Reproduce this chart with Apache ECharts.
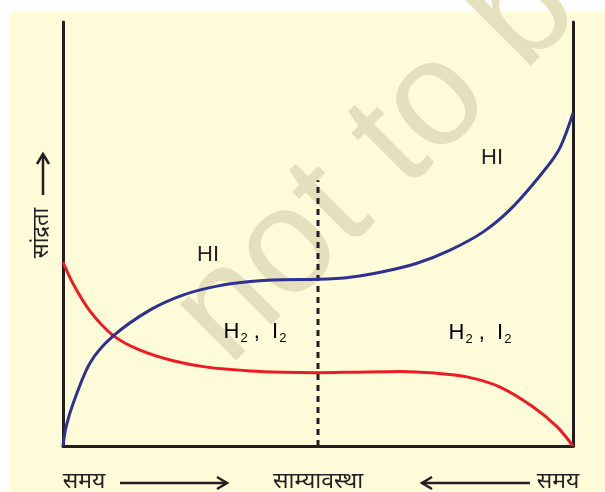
<!DOCTYPE html>
<html>
<head>
<meta charset="utf-8">
<script src="https://cdn.jsdelivr.net/npm/echarts@6/dist/echarts.min.js"></script>
<style>
  html, body { margin: 0; padding: 0; background: #fff; }
  #chart { width: 605px; height: 492px; }
</style>
</head>
<body>
<div id="chart"></div>
<script>
// समय (x) 0..100, सांद्रता (y) 0..100
var hiX = [0, 0.6, 2, 5.3, 9.8, 17.1, 23.5, 30.2, 36.7, 43.1, 50, 56.3, 62.7, 69.4, 75.9, 82.4, 88.2, 94.9, 97.5, 100];
var hiY = [0, 4.5, 10.1, 19.6, 25.9, 32.1, 35.6, 37.7, 38.8, 39.2, 39.3, 39.8, 41.1, 43.1, 46.2, 50.5, 56.4, 65.8, 70.5, 78.5];

var h2X = [0, 2, 5.3, 9.8, 15.1, 21.6, 28.2, 36.7, 43.1, 50, 56.3, 66.1, 72.9, 79.2, 85.7, 92.2, 96.9, 100];
var h2Y = [43.4, 38.2, 31.8, 26.1, 22.6, 20.1, 18.6, 17.7, 17.4, 17.3, 17.4, 17.6, 17.2, 16.3, 13.9, 9.2, 4.5, 0];

// साम्यावस्था
var eqX = 50;
var eqTop = 62.7;

var xLabels = ['समय', 'साम्यावस्था', 'समय'];
var yLabel = 'सांद्रता';

function pairs(xs, ys) {
  var out = [];
  for (var i = 0; i < xs.length; i++) out.push([xs[i], ys[i]]);
  return out;
}

var ink = '#231f20';
var txtFont = '"Liberation Sans", Arial, sans-serif';
var devFont = '"Noto Sans", "Liberation Sans", sans-serif';

var chart = echarts.init(document.getElementById('chart'));

var option = {
  backgroundColor: '#ffffff',
  animation: false,
  grid: { left: 63, right: 32, top: 22, bottom: 46 },
  xAxis: {
    type: 'value', min: 0, max: 100,
    axisLine: { show: true, lineStyle: { color: ink, width: 3 } },
    axisTick: { show: false }, axisLabel: { show: false }, splitLine: { show: false }
  },
  yAxis: [
    {
      type: 'value', min: 0, max: 100, position: 'left',
      axisLine: { show: true, lineStyle: { color: ink, width: 3 } },
      axisTick: { show: false }, axisLabel: { show: false }, splitLine: { show: false }
    },
    {
      type: 'value', min: 0, max: 100, position: 'right',
      axisLine: { show: true, lineStyle: { color: ink, width: 3 } },
      axisTick: { show: false }, axisLabel: { show: false }, splitLine: { show: false }
    }
  ],
  graphic: [
    // page tint
    { type: 'rect', z: -10, silent: true, shape: { x: 10, y: 11, width: 595, height: 481 }, style: { fill: '#fefbd8' } },
    // watermark
    {
      type: 'text', z: -5, silent: true, x: 288, y: 250, rotation: 45 * Math.PI / 180,
      style: { text: 'not to be republished', x: -125, y: 0, textVerticalAlign: 'middle', font: '150px ' + txtFont, fill: '#e4dfbd' }
    },
    // curve labels
    { type: 'text', z: 10, x: 208, y: 255, style: { text: 'HI', font: '22px ' + txtFont, fill: ink, textAlign: 'center', textVerticalAlign: 'middle' } },
    { type: 'text', z: 10, x: 492, y: 158, style: { text: 'HI', font: '22px ' + txtFont, fill: ink, textAlign: 'center', textVerticalAlign: 'middle' } },
    {
      type: 'text', z: 10, x: 255, y: 332,
      style: {
        text: '{b|H}{s|2}{b| ,  I}{s|2}', textAlign: 'center', textVerticalAlign: 'middle',
        rich: { b: { fontSize: 22, fontFamily: txtFont, color: ink }, s: { fontSize: 13, fontFamily: txtFont, color: ink, padding: [12, 0, 0, 1] } }
      }
    },
    {
      type: 'text', z: 10, x: 480, y: 333,
      style: {
        text: '{b|H}{s|2}{b| ,  I}{s|2}', textAlign: 'center', textVerticalAlign: 'middle',
        rich: { b: { fontSize: 22, fontFamily: txtFont, color: ink }, s: { fontSize: 13, fontFamily: txtFont, color: ink, padding: [12, 0, 0, 1] } }
      }
    },
    // bottom labels
    { type: 'text', x: 84, y: 481, style: { text: xLabels[0], font: '23px ' + devFont, fill: ink, textAlign: 'center', textVerticalAlign: 'middle' } },
    { type: 'text', x: 318, y: 481, style: { text: xLabels[1], font: '23px ' + devFont, fill: ink, textAlign: 'center', textVerticalAlign: 'middle' } },
    { type: 'text', x: 558, y: 481, style: { text: xLabels[2], font: '23px ' + devFont, fill: ink, textAlign: 'center', textVerticalAlign: 'middle' } },
    { type: 'polyline', shape: { points: [[120, 483], [227, 483]] }, style: { stroke: ink, lineWidth: 2.5, fill: null } },
    { type: 'polyline', shape: { points: [[217, 477], [227, 483], [217, 489]] }, style: { stroke: ink, lineWidth: 2.5, fill: null } },
    { type: 'polyline', shape: { points: [[422, 483], [530, 483]] }, style: { stroke: ink, lineWidth: 2.5, fill: null } },
    { type: 'polyline', shape: { points: [[432, 477], [422, 483], [432, 489]] }, style: { stroke: ink, lineWidth: 2.5, fill: null } },
    // y label
    { type: 'text', x: 42, y: 233, rotation: Math.PI / 2, style: { text: yLabel, font: '22px ' + devFont, fill: ink, textAlign: 'center', textVerticalAlign: 'middle' } },
    { type: 'polyline', shape: { points: [[43, 195], [43, 154]] }, style: { stroke: ink, lineWidth: 2.5, fill: null } },
    { type: 'polyline', shape: { points: [[37, 164], [43, 154], [49, 164]] }, style: { stroke: ink, lineWidth: 2.5, fill: null } }
  ],
  series: [
    {
      name: 'HI', type: 'line', data: pairs(hiX, hiY), smooth: 0.3,
      symbol: 'none', z: 4, lineStyle: { color: '#2e3192', width: 3 }
    },
    {
      name: 'H2, I2', type: 'line', data: pairs(h2X, h2Y), smooth: 0.3,
      symbol: 'none', z: 3, lineStyle: { color: '#ed1c24', width: 3 }
    },
    {
      name: 'equilibrium', type: 'line', data: [[eqX, 0], [eqX, eqTop]],
      symbol: 'none', z: 2, lineStyle: { color: ink, width: 3, type: [6, 5] }
    }
  ]
};

chart.setOption(option);
</script>
</body>
</html>
